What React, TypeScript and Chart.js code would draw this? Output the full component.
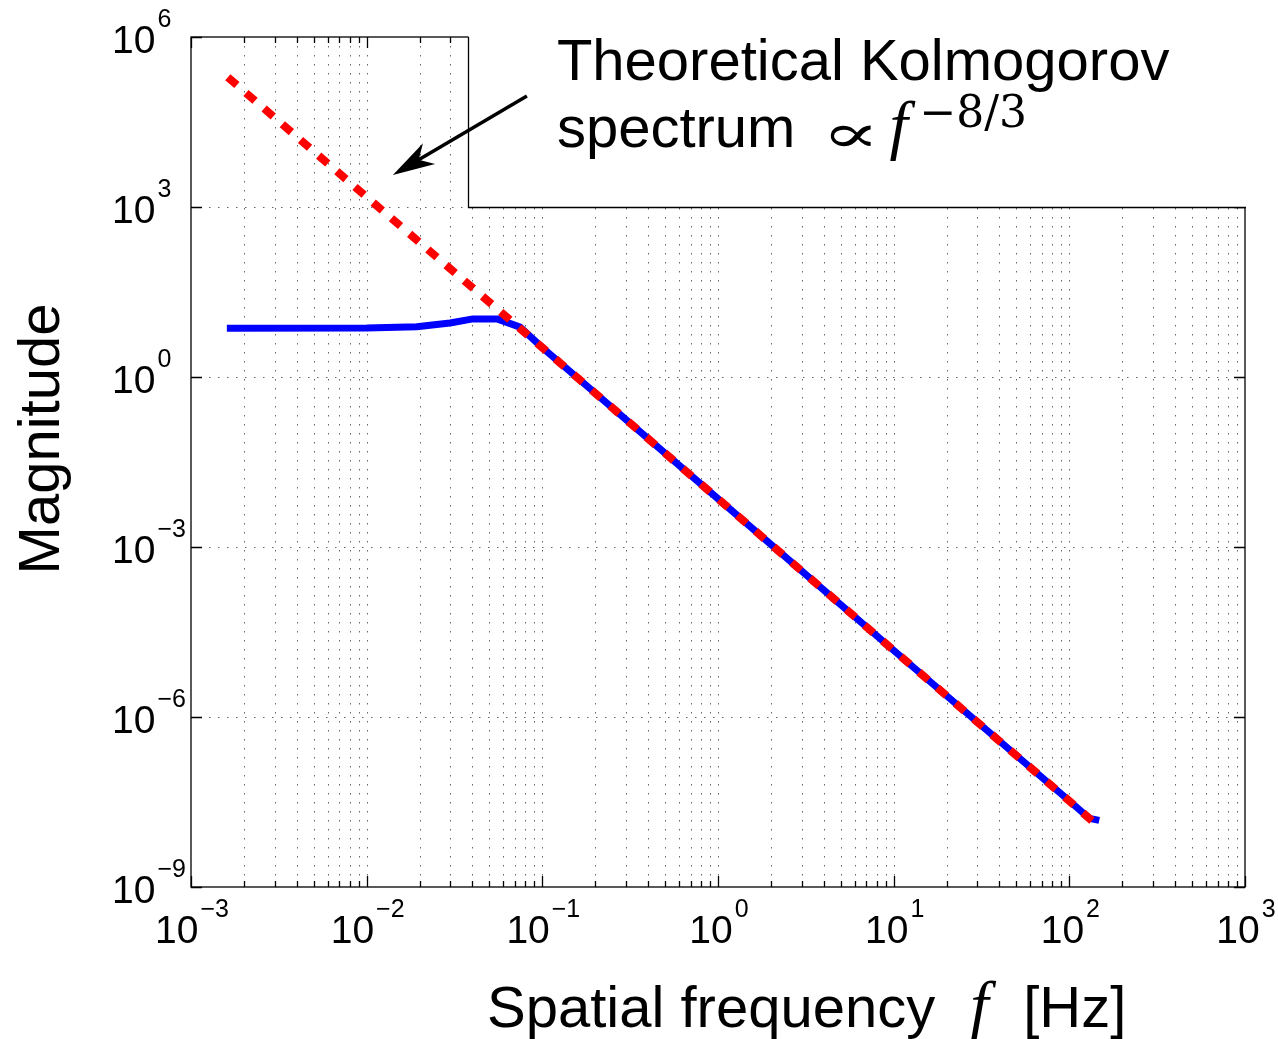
import React, { useEffect, useRef } from "react";
import { Chart, registerables } from "chart.js";

Chart.register(...registerables);

// ---- data ----
const xMin = 1e-3;
const xMax = 1e3;
const yMin = 1e-9;
const yMax = 1e6;
const xTickExponents = [-3, -2, -1, 0, 1, 2, 3];
const yTickExponents = [-9, -6, -3, 0, 3, 6];

const measuredFreq = [1.6e-3, 1e-2, 1.93e-2, 2.98e-2, 4.03e-2, 5.52e-2, 7.47e-2, 0.1, 1, 10, 100, 130, 148];
const measuredMag = [7.24, 7.3, 7.7, 8.97, 10.6, 10.6, 7.6, 3.3, 7.1e-3, 1.5e-5, 3.3e-8, 1.63e-8, 1.5e-8];

const kolmogorovFreq = [1.62e-3, 1e-2, 0.1, 1, 10, 100, 145];
const kolmogorovMag = [1.95e5, 1.5e3, 3.3, 7.1e-3, 1.5e-5, 3.3e-8, 1.2e-8];

// annotation anchors (data coordinates)
const arrowTip = { x: 0.0141, y: 3670 };
const arrowTail = { x: 0.0817, y: 9.1e4 };
const boxCorner = { x: 0.0377, y: 1e3 };
const textAnchor = { x: 0.121, y1: 1.74e5, y2: 1.15e4 };

const annotationLine1 = "Theoretical Kolmogorov";
const annotationLine2 = "spectrum";
const xTitleMain = "Spatial frequency";
const xTitleUnit = "[Hz]";
const yTitle = "Magnitude";

const SANS = '"Liberation Sans", Arial, Helvetica, sans-serif';

function drawPower(ctx: CanvasRenderingContext2D, exp: number, x: number, baseline: number, mode: "center" | "left") {
  const base = "10";
  const sup = exp < 0 ? "\u2212" + Math.abs(exp) : String(exp);
  ctx.font = `39px ${SANS}`;
  const bw = ctx.measureText(base).width;
  ctx.font = `25px ${SANS}`;
  const sw = ctx.measureText(sup).width;
  const gap = 2;
  const total = bw + gap + sw;
  const x0 = mode === "center" ? x - total / 2 : x;
  ctx.textAlign = "left";
  ctx.textBaseline = "alphabetic";
  ctx.fillStyle = "#000";
  ctx.font = `39px ${SANS}`;
  ctx.fillText(base, x0, baseline);
  ctx.font = `25px ${SANS}`;
  ctx.fillText(sup, x0 + bw + gap, baseline - 26);
}

const axesPlugin = {
  id: "matlabAxes",
  beforeDatasetsDraw(chart: any) {
    const { ctx, chartArea } = chart;
    const { left, right, top, bottom } = chartArea;
    const xs = chart.scales.x;
    const ys = chart.scales.y;
    ctx.save();
    ctx.strokeStyle = "rgba(0,0,0,0.6)";
    ctx.lineWidth = 1;
    ctx.setLineDash([1.5, 7.5]);
    for (let e = -3; e < 3; e++) {
      for (let m = 1; m <= 9; m++) {
        const v = m * Math.pow(10, e);
        if (v <= xMin) continue;
        const px = Math.round(xs.getPixelForValue(v)) + 0.5;
        ctx.beginPath();
        ctx.moveTo(px, top);
        ctx.lineTo(px, bottom);
        ctx.stroke();
      }
    }
    for (const e of yTickExponents) {
      const v = Math.pow(10, e);
      if (v <= yMin || v >= yMax) continue;
      const py = Math.round(ys.getPixelForValue(v)) + 0.5;
      ctx.beginPath();
      ctx.moveTo(left, py);
      ctx.lineTo(right, py);
      ctx.stroke();
    }
    ctx.restore();
  },
  afterDatasetsDraw(chart: any) {
    const { ctx, chartArea } = chart;
    const { left, right, top, bottom } = chartArea;
    const xs = chart.scales.x;
    const ys = chart.scales.y;
    ctx.save();
    ctx.setLineDash([]);
    ctx.strokeStyle = "#000";
    ctx.lineWidth = 1.3;
    // box
    ctx.strokeRect(left, top, right - left, bottom - top);
    // x ticks (bottom & top)
    for (let e = -3; e <= 3; e++) {
      for (let m = 1; m <= 9; m++) {
        const v = m * Math.pow(10, e);
        if (v > xMax) break;
        const px = Math.round(xs.getPixelForValue(v)) + 0.5;
        const len = m === 1 ? 11 : 6;
        ctx.beginPath();
        ctx.moveTo(px, bottom);
        ctx.lineTo(px, bottom - len);
        ctx.moveTo(px, top);
        ctx.lineTo(px, top + len);
        ctx.stroke();
      }
    }
    // y ticks (left & right)
    for (const e of yTickExponents) {
      const py = Math.round(ys.getPixelForValue(Math.pow(10, e))) + 0.5;
      ctx.beginPath();
      ctx.moveTo(left, py);
      ctx.lineTo(left + 11, py);
      ctx.moveTo(right, py);
      ctx.lineTo(right - 11, py);
      ctx.stroke();
    }

    // annotation white box
    const bx = Math.round(xs.getPixelForValue(boxCorner.x)) + 0.5;
    const by = Math.round(ys.getPixelForValue(boxCorner.y)) + 0.5;
    ctx.fillStyle = "#fff";
    ctx.fillRect(bx, top - 12, right + 6 - bx, by - (top - 12));
    ctx.beginPath();
    ctx.moveTo(bx, top);
    ctx.lineTo(bx, by);
    ctx.lineTo(right + 1, by);
    ctx.stroke();

    // annotation text
    const tx = xs.getPixelForValue(textAnchor.x);
    const b1 = ys.getPixelForValue(textAnchor.y1);
    const b2 = ys.getPixelForValue(textAnchor.y2);
    ctx.fillStyle = "#000";
    ctx.textAlign = "left";
    ctx.textBaseline = "alphabetic";
    ctx.font = `58px ${SANS}`;
    ctx.fillText(annotationLine1, tx, b1);
    ctx.fillText(annotationLine2, tx, b2);
    const sw = ctx.measureText(annotationLine2).width;
    // proportional-to sign, drawn wide like the TeX glyph
    const propX = tx + sw + 26;
    ctx.save();
    ctx.translate(propX, b2 + 5);
    ctx.scale(1.6, 1.0);
    ctx.font = `54px "DejaVu Serif", serif`;
    ctx.fillText("\u221D", 0, 0);
    ctx.restore();
    ctx.font = `italic 66px "Liberation Serif", "Times New Roman", serif`;
    const fX = propX + 68;
    ctx.fillText("f", fX, b2);
    ctx.font = `44px "DejaVu Serif", serif`;
    ctx.fillText("\u22128/3", fX + 30, b2 - 20);

    // arrow
    const ax = xs.getPixelForValue(arrowTip.x);
    const ay = ys.getPixelForValue(arrowTip.y);
    const tX = xs.getPixelForValue(arrowTail.x);
    const tY = ys.getPixelForValue(arrowTail.y);
    const dx = tX - ax;
    const dy = tY - ay;
    const d = Math.hypot(dx, dy);
    const ux = dx / d;
    const uy = dy / d;
    const nx = -uy;
    const ny = ux;
    ctx.lineWidth = 3.5;
    ctx.beginPath();
    ctx.moveTo(tX, tY);
    ctx.lineTo(ax + ux * 28, ay + uy * 28);
    ctx.stroke();
    const L = 42;
    const W = 12;
    ctx.beginPath();
    ctx.moveTo(ax, ay);
    ctx.lineTo(ax + ux * L + nx * W, ay + uy * L + ny * W);
    ctx.lineTo(ax + ux * 30, ay + uy * 30);
    ctx.lineTo(ax + ux * L - nx * W, ay + uy * L - ny * W);
    ctx.closePath();
    ctx.fill();

    // tick labels
    for (const e of xTickExponents) {
      const px = xs.getPixelForValue(Math.pow(10, e));
      drawPower(ctx, e, px + 1, bottom + 56, "center");
    }
    for (const e of yTickExponents) {
      const py = ys.getPixelForValue(Math.pow(10, e));
      drawPower(ctx, e, left - 79, py + 16, "left");
    }

    // axis titles
    ctx.fillStyle = "#000";
    ctx.font = `58px ${SANS}`;
    ctx.textAlign = "left";
    const xtX = 487;
    const xtY = bottom + 140;
    ctx.fillText(xTitleMain, xtX, xtY);
    const mw = ctx.measureText(xTitleMain).width;
    ctx.font = `italic 66px "Liberation Serif", "Times New Roman", serif`;
    const fx2 = xtX + mw + 35;
    ctx.fillText("f", fx2, xtY);
    ctx.font = `58px ${SANS}`;
    ctx.fillText(xTitleUnit, fx2 + 53, xtY);

    ctx.save();
    ctx.translate(58.5, (top + bottom) / 2 - 23);
    ctx.rotate(-Math.PI / 2);
    ctx.textAlign = "center";
    ctx.font = `58px ${SANS}`;
    ctx.fillText(yTitle, 0, 0);
    ctx.restore();

    ctx.restore();
  },
};

export default function App() {
  const ref = useRef<HTMLCanvasElement | null>(null);
  useEffect(() => {
    if (!ref.current) return;
    const chart = new Chart(ref.current, {
      type: "line",
      data: {
        datasets: [
          {
            label: "Measured",
            data: measuredFreq.map((f, i) => ({ x: f, y: measuredMag[i] })),
            borderColor: "#0000ff",
            backgroundColor: "#0000ff",
            borderWidth: 7,
            pointRadius: 0,
            tension: 0,
            borderJoinStyle: "round",
            borderCapStyle: "butt",
            order: 2,
          },
          {
            label: "Kolmogorov",
            data: kolmogorovFreq.map((f, i) => ({ x: f, y: kolmogorovMag[i] })),
            borderColor: "#ff0000",
            backgroundColor: "#ff0000",
            borderWidth: 8,
            borderDash: [12, 12],
            borderCapStyle: "butt",
            pointRadius: 0,
            tension: 0,
            order: 1,
          },
        ],
      },
      options: {
        responsive: false,
        animation: false,
        events: [],
        layout: { padding: { left: 191, right: 33, top: 37, bottom: 152 } },
        plugins: { legend: { display: false }, tooltip: { enabled: false } },
        scales: {
          x: { type: "logarithmic", min: xMin, max: xMax, display: false },
          y: { type: "logarithmic", min: yMin, max: yMax, display: false },
        },
      },
      plugins: [axesPlugin],
    } as any);
    return () => chart.destroy();
  }, []);
  return (
    <canvas
      ref={ref}
      width={1278}
      height={1039}
      style={{ position: "absolute", left: 0, top: 0, width: 1278, height: 1039, background: "#fff" }}
    />
  );
}
